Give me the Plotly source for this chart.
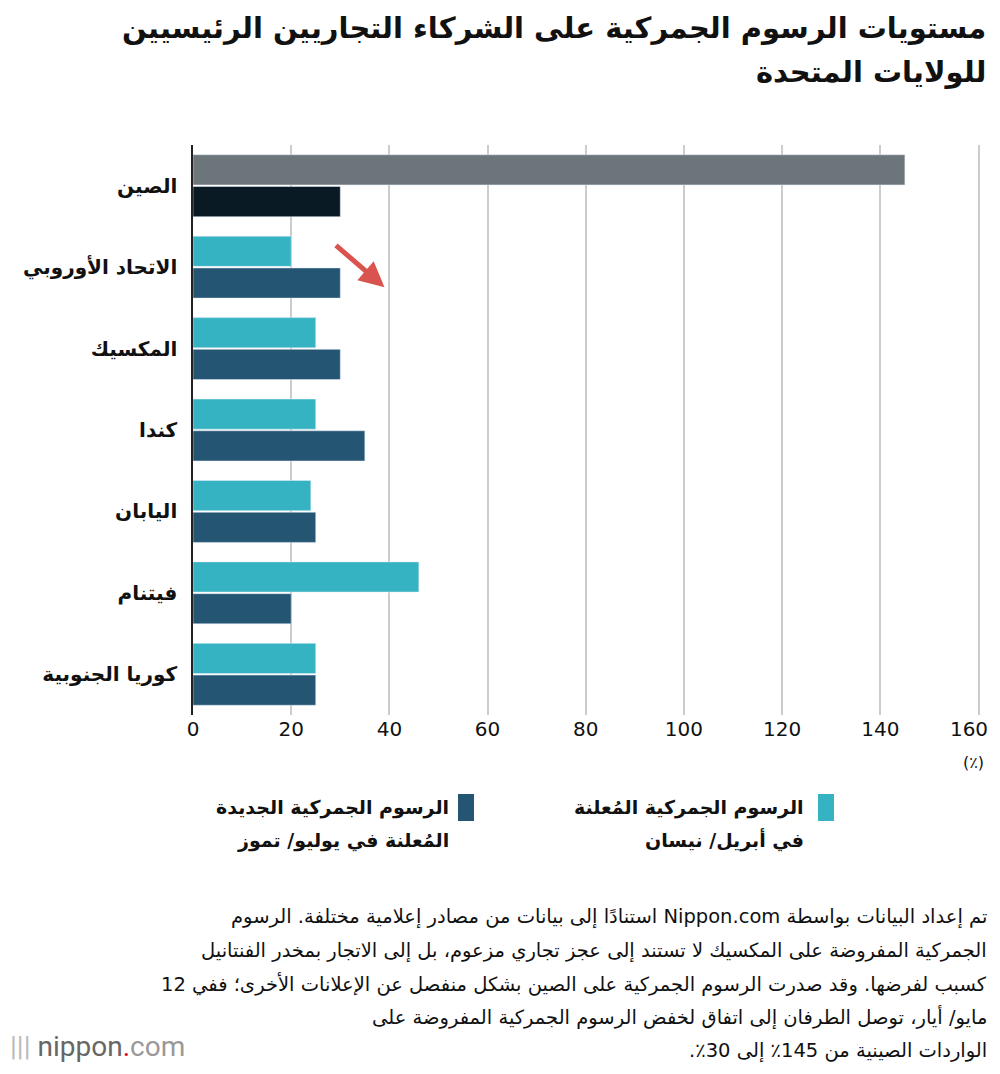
import plotly.graph_objects as go

countries = ["الصين", "الاتحاد الأوروبي", "المكسيك", "كندا", "اليابان", "فيتنام", "كوريا الجنوبية"]
april = [145, 20, 25, 25, 24, 46, 25]
july = [30, 30, 30, 35, 25, 20, 25]
april_colors = ["#6c7579"] + ["#36b3c3"] * 6
july_colors = ["#0a1a24"] + ["#245673"] * 6
xticks = [0, 20, 40, 60, 80, 100, 120, 140, 160]
xticktext = ["0", "20", "40", "60", "80", "100", "120", "140", "160\u00a0\u00a0\u00a0"]

OFF = 8  # page body margin
W, H = 1000 - 2 * OFF, 1074 - 2 * OFF
L, R, T, B = 193 - OFF, 980 - OFF, 145 - OFF, 715 - OFF
def px(x): return (x - OFF - L) / (R - L)
def py(y): return (B - (y - OFF)) / (B - T)

RLE, PDF = "\u202b", "\u202c"
FONT = "DejaVu Sans"
fig = go.Figure()
fig.add_bar(y=countries, x=april, orientation="h", marker_color=april_colors, showlegend=False)
fig.add_bar(y=countries, x=july, orientation="h", marker_color=july_colors, showlegend=False)

fig.update_layout(
    width=W, height=H, barmode="group", bargap=0.22, bargroupgap=0.05,
    margin=dict(l=L, r=W - R, t=T, b=H - B, autoexpand=False),
    plot_bgcolor="white", paper_bgcolor="white",
    font=dict(family=FONT, color="#111"),
    xaxis=dict(range=[0, 160.3], tickvals=xticks, ticktext=xticktext, showgrid=True, gridcolor="#cccccc",
               gridwidth=1.5, zeroline=False, tickfont=dict(size=20), ticks="",
               showline=False, automargin=False, ticklabeloverflow="allow"),
    yaxis=dict(autorange="reversed", tickfont=dict(size=20, family=FONT), ticks="",
               showline=True, linecolor="#222", linewidth=1.5, automargin=False,
               tickvals=countries, ticktext=["<b>" + c + "</b>" for c in countries],
               ticklabelstandoff=10),
)

ann = []
ann.append(dict(text="<b>مستويات الرسوم الجمركية على الشركاء التجاريين الرئيسيين</b>",
                x=px(988), y=py(28), xref="paper", yref="paper", xanchor="right", yanchor="middle",
                showarrow=False, font=dict(size=29, color="#111")))
ann.append(dict(text="<b>للولايات المتحدة</b>", x=px(988), y=py(72), xref="paper", yref="paper",
                xanchor="right", yanchor="middle", showarrow=False, font=dict(size=29, color="#111")))
ann.append(dict(text="(٪)", x=px(986), y=py(762), xref="paper", yref="paper", xanchor="right",
                yanchor="middle", showarrow=False, font=dict(size=16)))
ann.append(dict(x=39, y=countries[1], xref="x", yref="y", yshift=-20, ax=-50, ay=-43,
                showarrow=True, arrowhead=2, arrowsize=1, arrowwidth=5, arrowcolor="#d9534f", text=""))
for sq_x, col, l1, l2, tx in [(818, "#36b3c3", "الرسوم الجمركية المُعلنة", "في أبريل/ نيسان", 806),
                              (458, "#245673", "الرسوم الجمركية الجديدة", "المُعلنة في يوليو/ تموز", 451)]:
    fig.add_shape(type="rect", xref="paper", yref="paper", x0=px(sq_x), x1=px(sq_x + 16),
                  y0=py(821), y1=py(794), fillcolor=col, line_width=0)
    ann.append(dict(text="<b>" + l1 + "</b>", x=px(tx), y=py(807), xref="paper", yref="paper",
                    xanchor="right", yanchor="middle", showarrow=False, font=dict(size=19)))
    ann.append(dict(text="<b>" + RLE + l2 + PDF + "</b>", x=px(tx), y=py(840), xref="paper", yref="paper",
                    xanchor="right", yanchor="middle", showarrow=False, font=dict(size=19)))
notes = ["تم إعداد البيانات بواسطة Nippon.com استنادًا إلى بيانات من مصادر إعلامية مختلفة. الرسوم",
         "الجمركية المفروضة على المكسيك لا تستند إلى عجز تجاري مزعوم، بل إلى الاتجار بمخدر الفنتانيل",
         "كسبب لفرضها. وقد صدرت الرسوم الجمركية على الصين بشكل منفصل عن الإعلانات الأخرى؛ ففي 12",
         "مايو/ أيار، توصل الطرفان إلى اتفاق لخفض الرسوم الجمركية المفروضة على",
         "الواردات الصينية من 145٪ إلى 30٪."]
for i, line in enumerate(notes):
    ann.append(dict(text=RLE + line + PDF, x=px(989), y=py(917 + i * 33.5), xref="paper", yref="paper",
                    xanchor="right", yanchor="middle", showarrow=False, font=dict(size=19.5)))
ann.append(dict(text="<span style='color:#bbb'>|||</span> <span style='color:#666'>nippon</span><span style='color:#e2001a'>.</span><span style='color:#999'>com</span>",
                x=px(8), y=py(1046), xref="paper", yref="paper", xanchor="left", yanchor="middle",
                showarrow=False, font=dict(size=28, family="Roboto")))
fig.update_layout(annotations=ann)
fig.write_html("out.html")
